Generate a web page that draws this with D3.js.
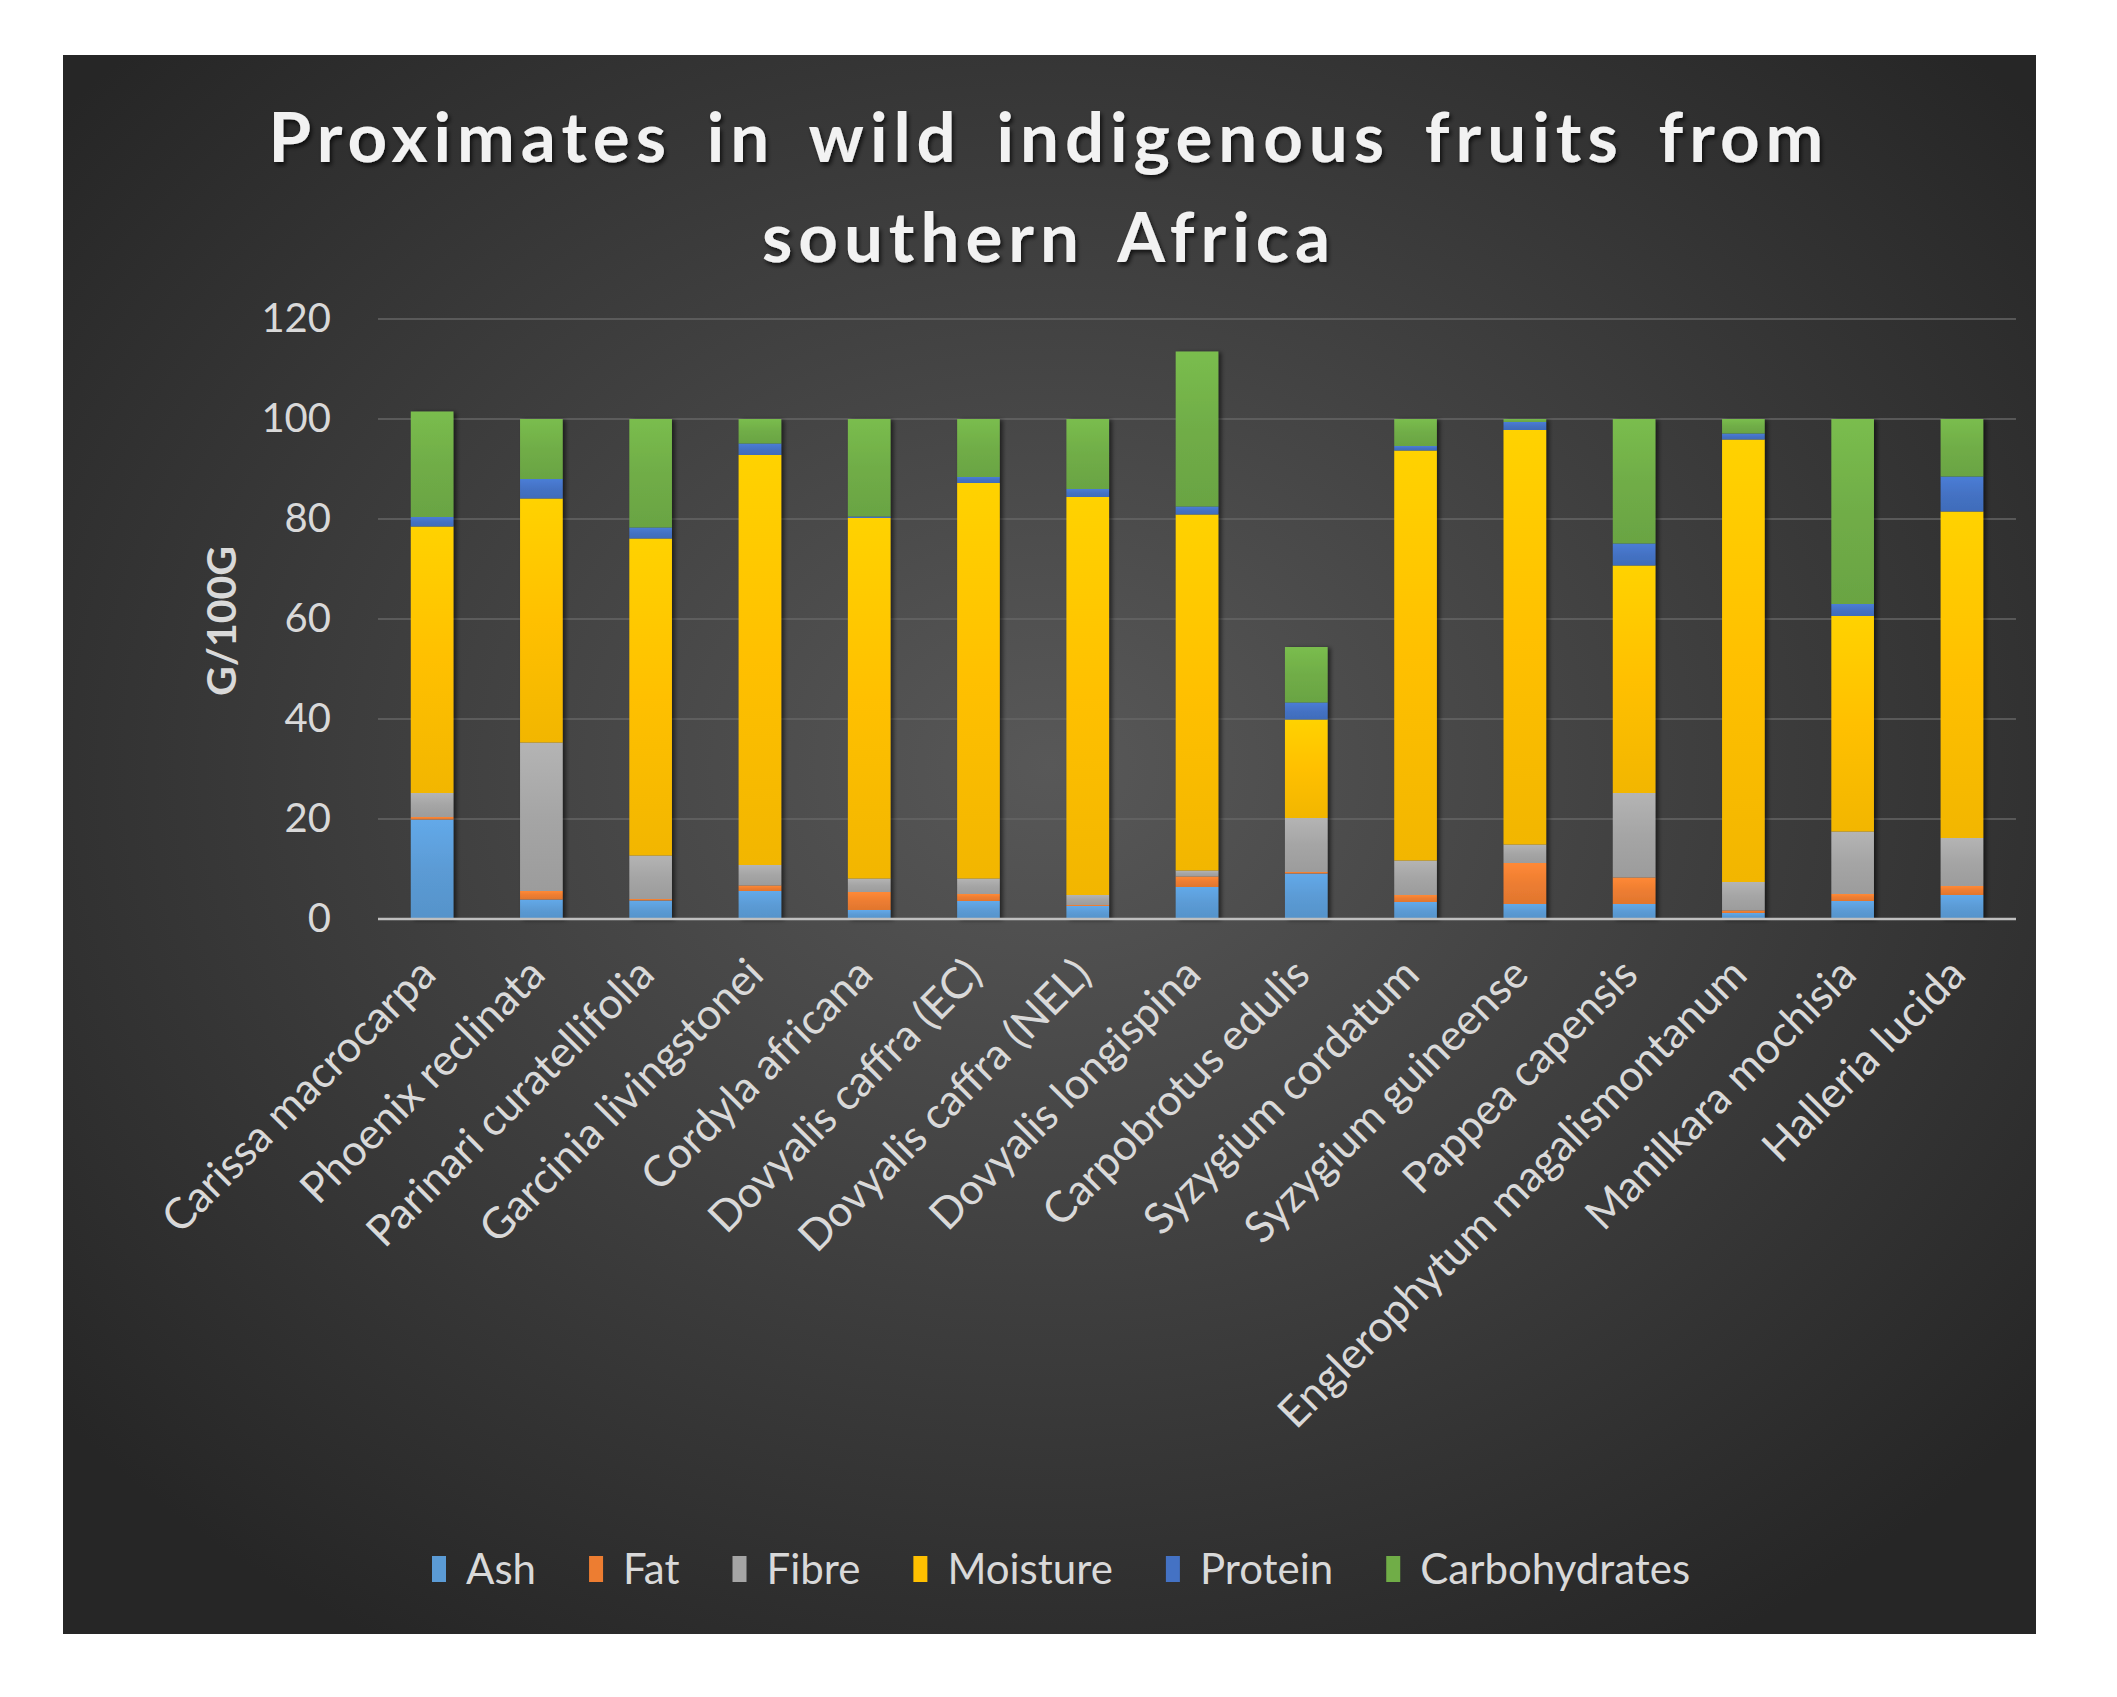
<!DOCTYPE html>
<html>
<head>
<meta charset="utf-8">
<script src="https://cdnjs.cloudflare.com/ajax/libs/d3/7.8.5/d3.min.js"></script>
<style>
  body { margin: 0; background: #ffffff; }
  svg { display: block; font-family: Lato, "Open Sans", sans-serif; }
</style>
</head>
<body>
<svg id="chart" width="2117" height="1697"></svg>
<script>
// fruit names along the x axis
const fruits = [
  "Carissa macrocarpa", "Phoenix reclinata", "Parinari curatellifolia",
  "Garcinia livingstonei", "Cordyla africana", "Dovyalis caffra (EC)",
  "Dovyalis caffra (NEL)", "Dovyalis longispina", "Carpobrotus edulis",
  "Syzygium cordatum", "Syzygium guineense", "Pappea capensis",
  "Englerophytum magalismontanum", "Manilkara mochisia", "Halleria lucida"
];

// g/100g
const ash      = [19.9, 3.9, 3.7, 5.6, 1.8, 3.6, 2.6, 6.4, 9.1, 3.4, 3.0, 3.0, 1.2, 3.6, 4.8];
const fat      = [0.5, 1.7, 0.3, 1.1, 3.6, 1.4, 0.2, 2.1, 0.3, 1.4, 8.2, 5.3, 0.5, 1.4, 1.8];
const fibre    = [4.8, 29.7, 8.7, 4.1, 2.7, 3.1, 2.0, 1.2, 10.8, 6.9, 3.7, 16.9, 5.7, 12.5, 9.6];
const moisture = [53.3, 48.8, 63.4, 82.0, 72.1, 79.1, 79.6, 71.2, 19.7, 82.0, 82.9, 45.5, 88.5, 43.1, 65.3];
const protein  = [1.9, 3.9, 2.2, 2.3, 0.3, 1.2, 1.6, 1.6, 3.4, 0.9, 1.6, 4.4, 1.2, 2.4, 7.0];
const carbs    = [21.1, 12.0, 21.7, 4.9, 19.5, 11.6, 14.0, 31.0, 11.1, 5.4, 0.6, 24.9, 2.9, 37.0, 11.5];

const seriesNames = ["Ash", "Fat", "Fibre", "Moisture", "Protein", "Carbohydrates"];
const yTicks = [0, 20, 40, 60, 80, 100, 120];

const colors = ["#5b9bd5", "#ed7d31", "#a5a5a5", "#ffc000", "#4472c4", "#70ad47"];

// build rows for d3.stack
const columns = [ash, fat, fibre, moisture, protein, carbs];
let rows = fruits.map(function(f, i) {
    let r = { fruit: f };
    seriesNames.forEach(function(s, k) { r[s] = columns[k][i]; });
    return r;
});

const left = 378, right = 2016;

let svg = d3.select("#chart");
let defs = svg.append("defs");

// dark radial background like the excel style
let bg = defs.append("radialGradient").attr("id", "bg")
    .attr("cx", "50%").attr("cy", "45%").attr("r", "65%");
bg.append("stop").attr("offset", "0%").attr("stop-color", "#585858");
bg.append("stop").attr("offset", "100%").attr("stop-color", "#262626");

// each series gets a soft vertical gradient
colors.forEach(function(c, k) {
    let g = defs.append("linearGradient").attr("id", "fill" + k)
        .attr("x1", 0).attr("y1", 0).attr("x2", 0).attr("y2", 1);
    g.append("stop").attr("offset", "0%").attr("stop-color", d3.color(c).brighter(0.25));
    g.append("stop").attr("offset", "50%").attr("stop-color", c);
    g.append("stop").attr("offset", "100%").attr("stop-color", d3.color(c).darker(0.15));
});

let shadow = defs.append("filter").attr("id", "shadow")
    .attr("x", "-20%").attr("y", "-5%").attr("width", "150%").attr("height", "110%");
shadow.append("feDropShadow").attr("dx", 3).attr("dy", 1).attr("stdDeviation", 2)
    .attr("flood-color", "#000").attr("flood-opacity", 0.55);

let tshadow = defs.append("filter").attr("id", "tshadow");
tshadow.append("feDropShadow").attr("dx", 2).attr("dy", 3).attr("stdDeviation", 2)
    .attr("flood-color", "#000").attr("flood-opacity", 0.7);

svg.append("rect")
    .attr("x", 63).attr("y", 55)
    .attr("width", 1973).attr("height", 1579)
    .attr("fill", "url(#bg)");

// scales
let x = d3.scaleBand().domain(fruits).range([left, right]).paddingInner(0.61).paddingOuter(0.3);
let y = d3.scaleLinear().domain([0, 120]).range([919, 319]);

// gridlines
svg.append("g").selectAll("line")
    .data(yTicks.slice(1))
    .enter().append("line")
    .attr("x1", left).attr("x2", right)
    .attr("y1", function(d) { return y(d); })
    .attr("y2", function(d) { return y(d); })
    .attr("stroke", "#666666")
    .attr("stroke-width", 1.5);

// y axis labels
let yAxis = svg.append("g")
    .attr("transform", "translate(" + left + ",0)")
    .call(d3.axisLeft(y).tickValues(yTicks).tickSize(0).tickPadding(47));
yAxis.select(".domain").remove();
yAxis.selectAll("text")
    .attr("fill", "#d9d9d9")
    .style("font-size", "40px")
    .style("font-family", "Lato, sans-serif");

// stacked bars
let stacked = d3.stack().keys(seriesNames)(rows);

let layers = svg.append("g").attr("filter", "url(#shadow)")
    .selectAll("g")
    .data(stacked)
    .enter().append("g")
    .attr("fill", function(d, k) { return "url(#fill" + k + ")"; });

layers.selectAll("rect")
    .data(function(d) { return d; })
    .enter().append("rect")
    .attr("x", function(d) { return x(d.data.fruit); })
    .attr("width", x.bandwidth())
    .attr("y", function(d) { return y(d[1]); })
    .attr("height", function(d) { return y(d[0]) - y(d[1]); });

// baseline
svg.append("line")
    .attr("x1", left).attr("x2", right)
    .attr("y1", y(0)).attr("y2", y(0))
    .attr("stroke", "#bfbfbf").attr("stroke-width", 2.5);

// category labels, rotated
let xAxis = svg.append("g")
    .attr("transform", "translate(0," + y(0) + ")")
    .call(d3.axisBottom(x).tickSize(0).tickPadding(0));
xAxis.select(".domain").remove();
xAxis.selectAll("text")
    .attr("fill", "#d9d9d9")
    .style("font-size", "43px")
    .style("font-family", "Lato, sans-serif")
    .attr("text-anchor", "end")
    .attr("dy", 0)
    .attr("y", 0)
    .attr("transform", "translate(6,58) rotate(-45)");

// y axis title
svg.append("text")
    .attr("transform", "translate(236,621) rotate(-90)")
    .attr("text-anchor", "middle")
    .attr("fill", "#d9d9d9")
    .style("font-size", "41px")
    .style("font-weight", "bold")
    .text("G/100G");

// title
let title = svg.append("text")
    .attr("text-anchor", "middle")
    .attr("fill", "#f2f2f2")
    .attr("filter", "url(#tshadow)")
    .style("font-size", "69px")
    .style("font-weight", "bold")
    .style("letter-spacing", "6px")
    .style("word-spacing", "12px");
title.append("tspan").attr("x", 1049).attr("y", 162).text("Proximates in wild indigenous fruits from");
title.append("tspan").attr("x", 1049).attr("y", 262).text("southern Africa");

// legend
let legend = svg.append("g");
let lx = 432;
seriesNames.forEach(function(s, k) {
    legend.append("rect")
        .attr("x", lx).attr("y", 1556)
        .attr("width", 14).attr("height", 26)
        .attr("fill", colors[k]);
    let t = legend.append("text")
        .attr("x", lx + 34).attr("y", 1584)
        .attr("fill", "#d9d9d9")
        .style("font-size", "42px")
        .text(s);
    lx = lx + 34 + t.node().getComputedTextLength() + 53;
});
</script>
</body>
</html>
